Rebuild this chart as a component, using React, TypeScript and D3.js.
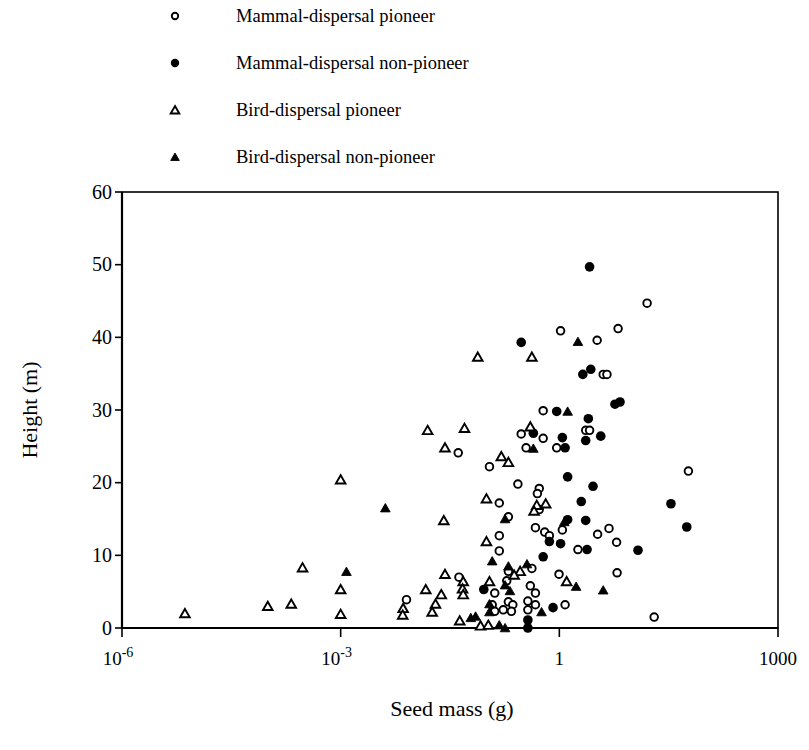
import * as d3 from "d3";

// seed mass (g), height (m)
const mammalPioneer: [number, number][] = [
  [0.008, 3.9], [0.041, 24.1], [0.11, 22.2], [0.27, 19.8], [0.15, 17.2],
  [0.3, 26.7], [0.6, 26.1], [0.35, 24.8], [0.6, 29.9], [0.53, 19.2],
  [0.5, 18.5], [0.92, 24.8], [2.3, 27.2], [2.6, 27.2], [1.04, 40.9],
  [16, 44.7], [3.3, 39.6], [6.4, 41.2], [4.0, 34.9], [4.5, 34.9],
  [59, 21.6], [0.53, 16.3], [1.1, 13.5], [0.47, 13.8], [0.63, 13.2],
  [0.73, 12.7], [3.35, 12.9], [4.8, 13.7], [6.1, 11.8], [1.8, 10.8],
  [0.42, 8.2], [0.99, 7.4], [6.2, 7.6], [0.4, 5.8], [0.47, 4.8],
  [0.37, 3.7], [0.47, 3.2], [1.2, 3.2], [0.37, 2.5], [20, 1.5],
  [0.2, 15.3], [0.15, 12.7], [0.15, 10.6], [0.042, 7.0], [0.2, 7.8],
  [0.19, 6.5], [0.13, 4.8], [0.12, 3.2], [0.2, 3.6], [0.23, 3.2],
  [0.13, 2.3], [0.17, 2.5], [0.22, 2.3],
];

const mammalNonPioneer: [number, number][] = [
  [0.3, 39.3], [0.44, 26.8], [0.92, 29.8], [2.5, 28.8], [2.3, 25.8],
  [3.7, 26.4], [1.1, 26.2], [1.2, 24.8], [5.8, 30.8], [6.8, 31.1],
  [1.3, 20.8], [2.9, 19.5], [2.0, 17.4], [2.6, 49.7], [2.1, 34.9],
  [2.7, 35.6], [34, 17.1], [56, 13.9], [1.3, 14.9], [2.3, 14.8],
  [0.73, 11.9], [1.04, 11.6], [2.4, 10.8], [12, 10.7], [0.6, 9.8],
  [0.82, 2.8], [0.37, 1.1], [0.37, 0], [0.092, 5.3],
];

const birdPioneer: [number, number][] = [
  [7.3e-6, 2.0], [1e-4, 3.0], [2.1e-4, 3.3], [3.0e-4, 8.3], [0.001, 20.4],
  [0.001, 5.3], [0.001, 1.9], [0.0156, 27.2], [0.05, 27.5], [0.027, 24.8],
  [0.16, 23.6], [0.2, 22.8], [0.1, 17.8], [0.026, 14.8], [0.076, 37.3],
  [0.42, 37.3], [0.4, 27.7], [0.49, 16.9], [0.65, 17.1], [0.45, 16.1],
  [0.29, 7.8], [1.26, 6.4], [0.1, 11.9], [0.027, 7.4], [0.048, 6.4],
  [0.047, 5.4], [0.048, 4.6], [0.0147, 5.3], [0.024, 4.6], [0.02, 3.3],
  [0.018, 2.2], [0.0072, 2.7], [0.0071, 1.8], [0.043, 1.0], [0.083, 0.3],
  [0.106, 0.4], [0.24, 7.3], [0.11, 6.4],
];

const birdNonPioneer: [number, number][] = [
  [0.0012, 7.75], [0.0041, 16.5], [1.8, 39.4], [1.3, 29.8], [0.44, 24.7],
  [1.17, 14.6], [0.36, 8.8], [1.7, 5.7], [4.0, 5.2], [0.57, 2.2],
  [0.18, 15.0], [0.12, 9.2], [0.2, 8.5], [0.18, 5.9], [0.21, 5.1],
  [0.11, 3.3], [0.11, 2.2], [0.061, 1.4], [0.071, 1.6], [0.15, 0.4],
  [0.18, 0],
];

const legendLabels = [
  "Mammal-dispersal pioneer",
  "Mammal-dispersal non-pioneer",
  "Bird-dispersal pioneer",
  "Bird-dispersal non-pioneer",
];
const xTicks = [1e-6, 1e-3, 1, 1000];
const yTicks = [0, 10, 20, 30, 40, 50, 60];

const font = "Liberation Serif, DejaVu Serif, Times New Roman, serif";

function Marker({ kind, x, y, legend = false }: { kind: number; x: number; y: number; legend?: boolean }) {
  const tri = d3.symbol().type(d3.symbolTriangle).size(legend ? 32 : 40)();
  if (kind === 0) return <circle cx={x} cy={y} r={legend ? 3.2 : 3.8} fill="#fff" stroke="#000" strokeWidth={1.9} />;
  if (kind === 1) return <circle cx={x} cy={y} r={legend ? 4.2 : 4.8} fill="#000" />;
  if (kind === 2)
    return <path d={tri!} transform={`translate(${x},${y + 1})`} fill="#fff" stroke="#000" strokeWidth={1.9} />;
  return <path d={tri!} transform={`translate(${x},${y + 1})`} fill="#000" stroke="#000" strokeWidth={0.9} />;
}

export default function App() {
  const left = 122, right = 778, top = 192, bottom = 628;
  const x = d3.scaleLog().domain([1e-6, 1000]).range([left, right]);
  const y = d3.scaleLinear().domain([0, 60]).range([bottom, top]);
  const series = [mammalPioneer, mammalNonPioneer, birdPioneer, birdNonPioneer];

  return (
    <svg width={809} height={750} style={{ position: "absolute", left: 0, top: 0, background: "#fff", fontFamily: font }}>
      {legendLabels.map((l, i) => (
        <g key={l}>
          <Marker kind={i} x={175} y={16 + i * 47} legend />
          <text x={236} y={16 + i * 47 + 6} fontSize={18.5}>{l}</text>
        </g>
      ))}

      <rect x={left} y={top} width={right - left} height={bottom - top} fill="none" stroke="#000" strokeWidth={1.6} />
      <line x1={left} x2={left} y1={top} y2={bottom} stroke="#000" strokeWidth={2.2} />
      <line x1={left} x2={right} y1={bottom} y2={bottom} stroke="#000" strokeWidth={2.2} />

      {yTicks.map((t) => (
        <g key={t}>
          <line x1={left - 7} x2={left} y1={y(t)} y2={y(t)} stroke="#000" strokeWidth={1.6} />
          <text x={left - 10} y={y(t) + 6.5} textAnchor="end" fontSize={20}>{t}</text>
        </g>
      ))}

      {xTicks.map((t) => {
        const e = Math.round(Math.log10(t));
        return (
          <g key={t}>
            <line x1={x(t)} x2={x(t)} y1={bottom} y2={bottom + 9} stroke="#000" strokeWidth={1.6} />
            {e < 0 ? (
              <text x={x(t) - 4} y={bottom + 37} textAnchor="middle" fontSize={19}>
                10<tspan fontSize={14} dy={-8}>{e}</tspan>
              </text>
            ) : (
              <text x={x(t)} y={bottom + 37} textAnchor="middle" fontSize={19}>{t}</text>
            )}
          </g>
        );
      })}

      {series.map((s, k) =>
        s.map((d, i) => <Marker key={`${k}-${i}`} kind={k} x={x(d[0])} y={y(d[1])} />)
      )}

      <text x={452} y={716} textAnchor="middle" fontSize={22}>Seed mass (g)</text>
      <text transform="translate(37,410) rotate(-90)" textAnchor="middle" fontSize={22}>Height (m)</text>
    </svg>
  );
}
